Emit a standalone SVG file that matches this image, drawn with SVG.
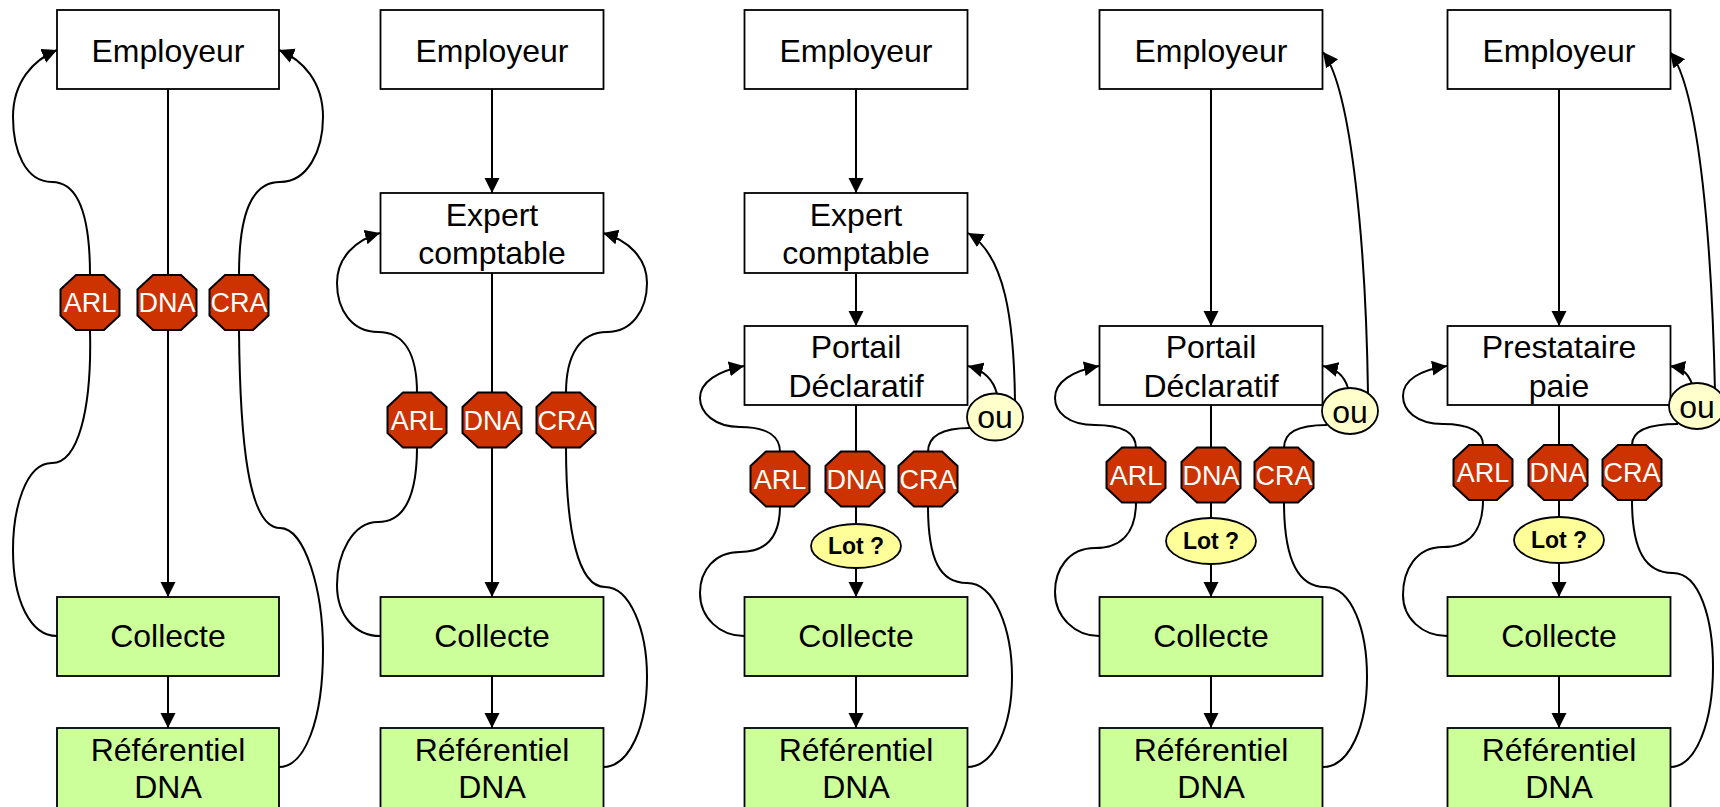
<svg xmlns="http://www.w3.org/2000/svg" xmlns:xlink="http://www.w3.org/1999/xlink" width="1720" height="807" viewBox="0 0 1720 807">
<defs>
<marker id="ah" markerUnits="userSpaceOnUse" markerWidth="16" markerHeight="16" refX="15" refY="7.5" orient="auto">
<path d="M0,0 L15,7.5 L0,15 z" fill="#000"/>
</marker>
<polygon id="oct" points="-14,-27.5 14,-27.5 29.5,-13 29.5,13 14,27.5 -14,27.5 -29.5,13 -29.5,-13" fill="#CC3300" stroke="#000" stroke-width="2"/>
</defs>
<style>
.box{fill:#fff;stroke:#000;stroke-width:1.8}
.grn{fill:#CCFF99;stroke:#000;stroke-width:1.8}
.t{font-family:"Liberation Sans",Arial,sans-serif;font-size:32px;fill:#000;text-anchor:middle}
.ot{font-family:"Liberation Sans",Arial,sans-serif;font-size:27px;fill:#fff;text-anchor:middle}
.lt{font-family:"Liberation Sans",Arial,sans-serif;font-size:23px;font-weight:bold;fill:#000;text-anchor:middle}
.lot{fill:#FFFF99;stroke:#000;stroke-width:1.8}
.ou{fill:#FFFFCC;stroke:#000;stroke-width:1.8}
.c{fill:none;stroke:#000;stroke-width:2}
.a{fill:none;stroke:#000;stroke-width:2;marker-end:url(#ah)}
</style>
<rect width="1720" height="807" fill="#fff"/>

<g id="connectors">
<!-- Panel 1 -->
<path class="c" d="M168,89 L168,275"/>
<path class="a" d="M168,330 L168,597"/>
<path class="a" d="M168,676 L168,728"/>
<path class="a" d="M90,275 C90,215 78,182 52,182 C25,182 13,150 13,117 C13,82 33,60 57,50"/>
<path class="c" d="M90,330 C92,410 78,463 52,463 C25,463 13,510 13,550 C13,600 30,636 57,636"/>
<path class="a" d="M239,275 C239,215 251,182 280,182 C308,182 323,150 323,117 C323,82 303,60 279,50"/>
<path class="c" d="M239,330 C240,440 248,528 280,528 C305,528 323,590 323,650 C323,720 305,767 279,767"/>
<!-- Panel 2 -->
<path class="a" d="M492,89 L492,193"/>
<path class="c" d="M492,273 L492,393"/>
<path class="a" d="M492,447 L492,597"/>
<path class="a" d="M492,676 L492,728"/>
<path class="a" d="M417,393 C417,355 405,332 378,332 C352,332 337,310 337,283 C337,258 355,240 380,233"/>
<path class="c" d="M417,447 C417,495 405,522 378,522 C352,522 337,555 337,585 C337,615 355,636 380,636"/>
<path class="a" d="M566,393 C566,355 580,332 607,332 C632,332 647,310 647,283 C647,258 628,240 603,233"/>
<path class="c" d="M566,447 C566,530 578,587 605,587 C630,587 647,630 647,677 C647,725 630,767 603,767"/>
<!-- Panel 3 -->
<path class="a" d="M856,89 L856,193"/>
<path class="a" d="M856,273 L856,326"/>
<path class="c" d="M856,405 L856,452"/>
<path class="c" d="M856,506 L856,524"/>
<path class="a" d="M856,568 L856,597"/>
<path class="a" d="M856,676 L856,728"/>
<path class="a" d="M780,452 C780,437 768,427 740,427 C715,427 700,413 700,398 C700,382 718,371 744,366"/>
<path class="c" d="M780,506 C780,535 768,552 740,552 C715,552 700,570 700,593 C700,618 720,636 744,636"/>
<path class="c" d="M928,452 C928,437 940,428 970,428"/>
<path class="a" d="M997,394 C993,378 983,370 968,366"/>
<path class="a" d="M1015,401 C1014,320 1005,255 968,233"/>
<path class="c" d="M928,506 C928,560 940,583 967,583 C995,583 1012,630 1012,677 C1012,725 995,767 967,767"/>
<!-- Panel 4 -->
<path class="a" d="M1211,89 L1211,326"/>
<path class="c" d="M1211,405 L1211,448"/>
<path class="c" d="M1211,502 L1211,518"/>
<path class="a" d="M1211,564 L1211,597"/>
<path class="a" d="M1211,676 L1211,728"/>
<path class="a" d="M1136,448 C1136,433 1122,425 1095,425 C1068,425 1055,412 1055,398 C1055,382 1072,371 1099,366"/>
<path class="c" d="M1136,502 C1136,532 1122,548 1095,548 C1068,548 1055,570 1055,592 C1055,617 1075,636 1099,636"/>
<path class="c" d="M1284,448 C1284,433 1296,425 1327,425"/>
<path class="a" d="M1348,388 C1344,375 1336,369 1323,366"/>
<path class="a" d="M1368,394 C1366,250 1352,90 1323,52"/>
<path class="c" d="M1284,502 C1284,560 1298,587 1325,587 C1352,587 1367,630 1367,677 C1367,725 1350,767 1323,767"/>
<!-- Panel 5 -->
<path class="a" d="M1559,89 L1559,326"/>
<path class="c" d="M1559,405 L1559,445"/>
<path class="c" d="M1559,500 L1559,517"/>
<path class="a" d="M1559,563 L1559,597"/>
<path class="a" d="M1559,676 L1559,728"/>
<path class="a" d="M1483,445 C1483,432 1470,424 1443,424 C1416,424 1403,410 1403,396 C1403,380 1420,370 1447,366"/>
<path class="c" d="M1483,500 C1483,530 1470,547 1443,547 C1416,547 1403,570 1403,595 C1403,618 1422,636 1447,636"/>
<path class="c" d="M1632,445 C1632,432 1645,424 1678,424"/>
<path class="a" d="M1692,384 C1688,373 1682,368 1670,366"/>
<path class="a" d="M1715,392 C1712,250 1700,90 1670,52"/>
<path class="c" d="M1632,500 C1632,550 1645,573 1673,573 C1700,573 1713,620 1713,667 C1713,720 1697,767 1670,767"/>
</g>

<!-- Panel 1 nodes -->
<g id="p1-employeur"><rect class="box" x="57" y="10" width="222" height="79"/><text class="t" x="168" y="62">Employeur</text></g>
<g id="p1-arl"><use xlink:href="#oct" x="90" y="302.5"/><text class="ot" x="90" y="312">ARL</text></g>
<g id="p1-dna"><use xlink:href="#oct" x="167" y="302.5"/><text class="ot" x="167" y="312">DNA</text></g>
<g id="p1-cra"><use xlink:href="#oct" x="239" y="302.5"/><text class="ot" x="239" y="312">CRA</text></g>
<g id="p1-collecte"><rect class="grn" x="57" y="597" width="222" height="79"/><text class="t" x="168" y="647">Collecte</text></g>
<g id="p1-ref"><rect class="grn" x="57" y="728" width="222" height="80"/><text class="t" x="168" y="761">Référentiel</text><text class="t" x="168" y="798">DNA</text></g>

<!-- Panel 2 nodes -->
<g id="p2-employeur"><rect class="box" x="380.5" y="10" width="223" height="79"/><text class="t" x="492" y="62">Employeur</text></g>
<g id="p2-expert"><rect class="box" x="380.5" y="193" width="223" height="80"/><text class="t" x="492" y="226">Expert</text><text class="t" x="492" y="264">comptable</text></g>
<g id="p2-arl"><use xlink:href="#oct" x="417" y="420"/><text class="ot" x="417" y="429.5">ARL</text></g>
<g id="p2-dna"><use xlink:href="#oct" x="492" y="420"/><text class="ot" x="492" y="429.5">DNA</text></g>
<g id="p2-cra"><use xlink:href="#oct" x="566" y="420"/><text class="ot" x="566" y="429.5">CRA</text></g>
<g id="p2-collecte"><rect class="grn" x="380.5" y="597" width="223" height="79"/><text class="t" x="492" y="647">Collecte</text></g>
<g id="p2-ref"><rect class="grn" x="380.5" y="728" width="223" height="80"/><text class="t" x="492" y="761">Référentiel</text><text class="t" x="492" y="798">DNA</text></g>

<!-- Panel 3 nodes -->
<g id="p3-employeur"><rect class="box" x="744.5" y="10" width="223" height="79"/><text class="t" x="856" y="62">Employeur</text></g>
<g id="p3-expert"><rect class="box" x="744.5" y="193" width="223" height="80"/><text class="t" x="856" y="226">Expert</text><text class="t" x="856" y="264">comptable</text></g>
<g id="p3-portail"><rect class="box" x="744.5" y="326" width="223" height="79"/><text class="t" x="856" y="358">Portail</text><text class="t" x="856" y="397">Déclaratif</text></g>
<g id="p3-arl"><use xlink:href="#oct" x="780" y="479"/><text class="ot" x="780" y="488.5">ARL</text></g>
<g id="p3-dna"><use xlink:href="#oct" x="855" y="479"/><text class="ot" x="855" y="488.5">DNA</text></g>
<g id="p3-cra"><use xlink:href="#oct" x="928" y="479"/><text class="ot" x="928" y="488.5">CRA</text></g>
<g id="p3-lot"><ellipse class="lot" cx="856" cy="546" rx="45" ry="22"/><text class="lt" x="856" y="554">Lot ?</text></g>
<g id="p3-ou"><ellipse class="ou" cx="995" cy="417" rx="28" ry="23.5"/><text class="t" x="995" y="428">ou</text></g>
<g id="p3-collecte"><rect class="grn" x="744.5" y="597" width="223" height="79"/><text class="t" x="856" y="647">Collecte</text></g>
<g id="p3-ref"><rect class="grn" x="744.5" y="728" width="223" height="80"/><text class="t" x="856" y="761">Référentiel</text><text class="t" x="856" y="798">DNA</text></g>

<!-- Panel 4 nodes -->
<g id="p4-employeur"><rect class="box" x="1099.5" y="10" width="223" height="79"/><text class="t" x="1211" y="62">Employeur</text></g>
<g id="p4-portail"><rect class="box" x="1099.5" y="326" width="223" height="79"/><text class="t" x="1211" y="358">Portail</text><text class="t" x="1211" y="397">Déclaratif</text></g>
<g id="p4-arl"><use xlink:href="#oct" x="1136" y="475"/><text class="ot" x="1136" y="484.5">ARL</text></g>
<g id="p4-dna"><use xlink:href="#oct" x="1211" y="475"/><text class="ot" x="1211" y="484.5">DNA</text></g>
<g id="p4-cra"><use xlink:href="#oct" x="1284" y="475"/><text class="ot" x="1284" y="484.5">CRA</text></g>
<g id="p4-lot"><ellipse class="lot" cx="1211" cy="541" rx="45" ry="23"/><text class="lt" x="1211" y="549">Lot ?</text></g>
<g id="p4-ou"><ellipse class="ou" cx="1350" cy="411" rx="28" ry="23"/><text class="t" x="1350" y="423">ou</text></g>
<g id="p4-collecte"><rect class="grn" x="1099.5" y="597" width="223" height="79"/><text class="t" x="1211" y="647">Collecte</text></g>
<g id="p4-ref"><rect class="grn" x="1099.5" y="728" width="223" height="80"/><text class="t" x="1211" y="761">Référentiel</text><text class="t" x="1211" y="798">DNA</text></g>

<!-- Panel 5 nodes -->
<g id="p5-employeur"><rect class="box" x="1447.5" y="10" width="223" height="79"/><text class="t" x="1559" y="62">Employeur</text></g>
<g id="p5-prestataire"><rect class="box" x="1447.5" y="326" width="223" height="79"/><text class="t" x="1559" y="358">Prestataire</text><text class="t" x="1559" y="397">paie</text></g>
<g id="p5-arl"><use xlink:href="#oct" x="1483" y="472.5"/><text class="ot" x="1483" y="482">ARL</text></g>
<g id="p5-dna"><use xlink:href="#oct" x="1558" y="472.5"/><text class="ot" x="1558" y="482">DNA</text></g>
<g id="p5-cra"><use xlink:href="#oct" x="1632" y="472.5"/><text class="ot" x="1632" y="482">CRA</text></g>
<g id="p5-lot"><ellipse class="lot" cx="1559" cy="540" rx="45" ry="23"/><text class="lt" x="1559" y="548">Lot ?</text></g>
<g id="p5-ou"><ellipse class="ou" cx="1697" cy="406" rx="28" ry="23"/><text class="t" x="1697" y="418">ou</text></g>
<g id="p5-collecte"><rect class="grn" x="1447.5" y="597" width="223" height="79"/><text class="t" x="1559" y="647">Collecte</text></g>
<g id="p5-ref"><rect class="grn" x="1447.5" y="728" width="223" height="80"/><text class="t" x="1559" y="761">Référentiel</text><text class="t" x="1559" y="798">DNA</text></g>
</svg>
